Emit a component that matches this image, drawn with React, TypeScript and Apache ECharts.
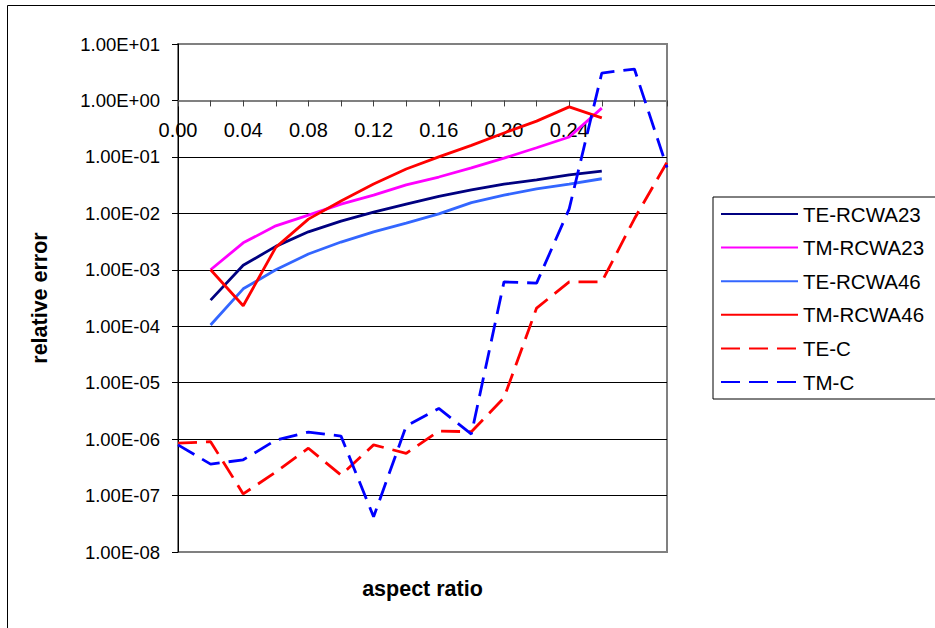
import React, { useEffect, useRef } from 'react';
import * as echarts from 'echarts';

// aspect ratio values of the data points
const aspectRatios = [0.0, 0.02, 0.04, 0.06, 0.08, 0.1, 0.12, 0.14, 0.16, 0.18, 0.2, 0.22, 0.24, 0.26, 0.28, 0.3];
// tick labels on the category (x) axis
const xLabelValues = [0.0, 0.04, 0.08, 0.12, 0.16, 0.2, 0.24];
// y range (decades)
const yMin = 1e-8;
const yMax = 1e1;

const teRcwa23 = [null, 2.9e-4, 1.2e-3, 2.6e-3, 4.7e-3, 7.3e-3, 1.05e-2, 1.46e-2, 2.0e-2, 2.6e-2, 3.3e-2, 3.9e-2, 4.8e-2, 5.6e-2, null, null];
const tmRcwa23 = [null, 1.0e-3, 3.0e-3, 6.0e-3, 9.3e-3, 1.46e-2, 2.1e-2, 3.2e-2, 4.4e-2, 6.4e-2, 9.5e-2, 0.145, 0.225, 0.73, null, null];
const teRcwa46 = [null, 1.05e-4, 4.6e-4, 1.0e-3, 1.9e-3, 3.1e-3, 4.7e-3, 6.7e-3, 9.8e-3, 1.55e-2, 2.1e-2, 2.7e-2, 3.3e-2, 4.1e-2, null, null];
const tmRcwa46 = [null, 1.0e-3, 2.3e-4, 2.5e-3, 7.9e-3, 1.66e-2, 3.3e-2, 6.1e-2, 0.1, 0.16, 0.265, 0.43, 0.77, 0.49, null, null];
const teC = [8.5e-7, 9.0e-7, 1.07e-7, 2.6e-7, 6.9e-7, 2.3e-7, 7.9e-7, 5.6e-7, 1.39e-6, 1.35e-6, 5.4e-6, 2.1e-4, 6.1e-4, 6.1e-4, 8.0e-3, 8.0e-2];
const tmC = [7.9e-7, 3.6e-7, 4.3e-7, 9.6e-7, 1.33e-6, 1.13e-6, 4.2e-8, 1.7e-6, 3.5e-6, 1.23e-6, 6.1e-4, 5.8e-4, 1.2e-2, 3.06, 3.6, 6.5e-2];

const seriesDefs = [
  { name: 'TE-RCWA23', values: teRcwa23, color: '#000080', dashed: false },
  { name: 'TM-RCWA23', values: tmRcwa23, color: '#FF00FF', dashed: false },
  { name: 'TE-RCWA46', values: teRcwa46, color: '#3366FF', dashed: false },
  { name: 'TM-RCWA46', values: tmRcwa46, color: '#FF0000', dashed: false },
  { name: 'TE-C', values: teC, color: '#FF0000', dashed: true },
  { name: 'TM-C', values: tmC, color: '#0000FF', dashed: true },
];

const FONT = "'Liberation Sans', Arial, sans-serif";

function fmtExp(v: number): string {
  const e = Math.round(Math.log10(v));
  const sign = e < 0 ? '-' : '+';
  const a = Math.abs(e);
  return '1.00E' + sign + (a < 10 ? '0' + a : String(a));
}

export default function App() {
  const ref = useRef<HTMLDivElement>(null);
  useEffect(() => {
    if (!ref.current) return;
    const chart = echarts.init(ref.current, null, { renderer: 'svg' });
    const gridTop = 44;
    const gridHeight = 508;
    const decade = gridHeight / 9;
    const option: any = {
      animation: false,
      backgroundColor: '#ffffff',
      textStyle: { fontFamily: FONT, color: '#000' },
      graphic: [
        {
          type: 'rect',
          shape: { x: 7.5, y: 5.5, width: 1000, height: 1000 },
          style: { fill: 'none', stroke: '#000', lineWidth: 1 },
          silent: true,
          z: -10,
        },
      ],
      grid: {
        left: 178,
        top: gridTop,
        width: 489,
        height: gridHeight,
        show: true,
        borderColor: '#808080',
        borderWidth: 2,
        containLabel: false,
        outerBoundsMode: 'none',
      },
      legend: {
        orient: 'vertical',
        left: 713,
        top: 197,
        padding: [6, 24, 6, 7],
        itemWidth: 77,
        itemHeight: 22,
        itemGap: 11.6,
        borderColor: '#000',
        borderWidth: 1,
        backgroundColor: '#fff',
        selectedMode: false,
        itemStyle: { opacity: 0 },
        textStyle: { fontFamily: FONT, fontSize: 20.5, color: '#000', lineHeight: 22 },
        data: seriesDefs.map((s) => s.name),
      },
      xAxis: [
        {
          type: 'value',
          min: 0,
          max: 0.3,
          interval: 0.02,
          position: 'top',
          offset: -decade,
          axisLine: { show: true, onZero: false, lineStyle: { color: '#808080', width: 2 } },
          axisTick: { show: true, inside: true, length: 6, lineStyle: { color: '#404040', width: 1 }, customValues: aspectRatios },
          axisLabel: {
            show: true,
            inside: true,
            margin: 20,
            customValues: xLabelValues,
            formatter: (v: number) => v.toFixed(2),
            fontFamily: FONT,
            fontSize: 20,
            color: '#000',
          },
          splitLine: { show: false },
        },
        {
          type: 'value',
          min: 0,
          max: 0.3,
          position: 'bottom',
          axisLine: { show: false },
          axisTick: { show: false },
          axisLabel: { show: false },
          splitLine: { show: false },
          name: 'aspect ratio',
          nameLocation: 'middle',
          nameGap: 26,
          nameTextStyle: { fontFamily: FONT, fontSize: 21.5, fontWeight: 'bold', color: '#000' },
        },
      ],
      yAxis: {
        type: 'log',
        logBase: 10,
        min: yMin,
        max: yMax,
        interval: 1,
        axisLine: { show: true, lineStyle: { color: '#000', width: 1 } },
        axisTick: { show: true, inside: false, length: 6, lineStyle: { color: '#000', width: 1 } },
        axisLabel: {
          formatter: (v: number) => fmtExp(v),
          margin: 18,
          fontFamily: FONT,
          fontSize: 18.5,
          color: '#000',
        },
        splitLine: { show: true, showMinLine: false, showMaxLine: false, lineStyle: { color: '#000', width: 1 } },
        minorTick: { show: false },
        name: 'relative error',
        nameLocation: 'middle',
        nameGap: 127,
        nameTextStyle: { fontFamily: FONT, fontSize: 21.5, fontWeight: 'bold', color: '#000' },
      },
      series: seriesDefs.map((s) => ({
        name: s.name,
        type: 'line',
        xAxisIndex: 0,
        symbol: 'none',
        showSymbol: false,
        color: s.color,
        lineStyle: { color: s.color, width: 2.8, type: s.dashed ? [19, 9] : 'solid' },
        data: aspectRatios
          .map((x, i) => [x, s.values[i]])
          .filter((p) => p[1] !== null && p[1] !== undefined),
      })),
    };
    chart.setOption(option);
    return () => chart.dispose();
  }, []);
  return (
    <div
      ref={ref}
      style={{ position: 'absolute', left: 0, top: 0, width: 935, height: 628, background: '#fff' }}
    />
  );
}
